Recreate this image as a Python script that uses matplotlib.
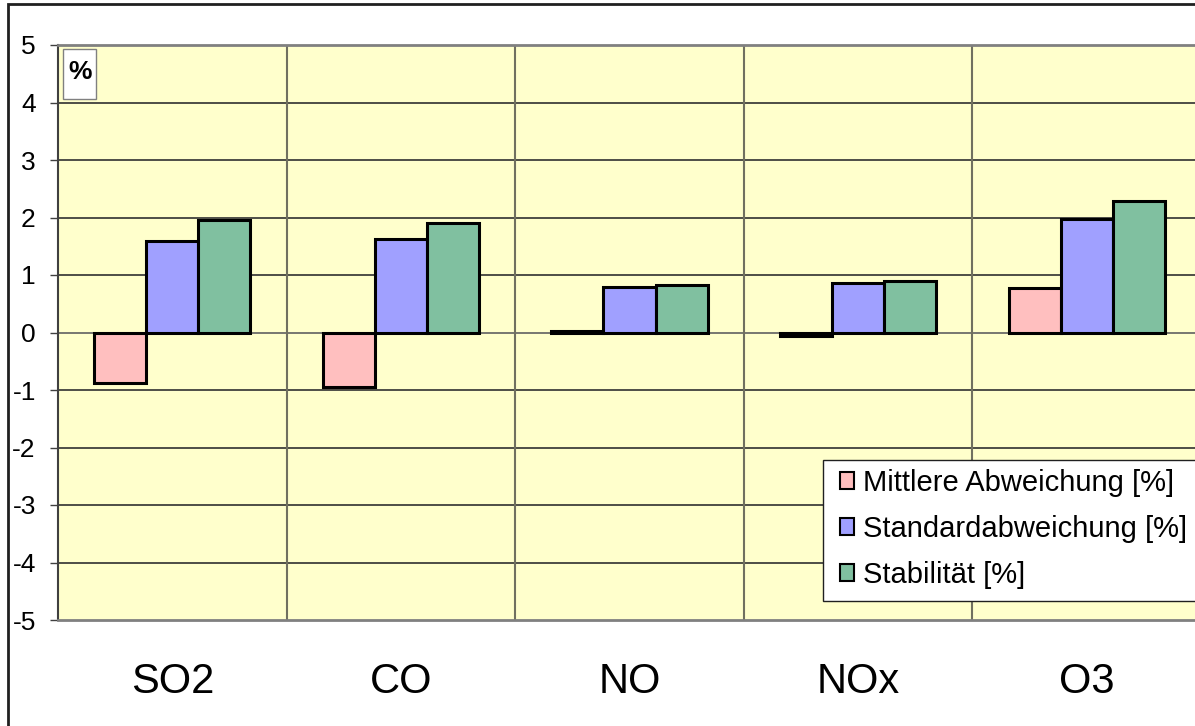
import numpy as np
import matplotlib
matplotlib.use('Agg')
import matplotlib.pyplot as plt
from matplotlib.patches import Rectangle

plt.rcParams['font.family'] = ['Liberation Sans', 'DejaVu Sans']

# Daten
categories = ['SO2', 'CO', 'NO', 'NOx', 'O3']
mittlere = [-0.87, -0.94, 0.03, -0.06, 0.77]
standard = [1.60, 1.63, 0.79, 0.86, 1.97]
stabil = [1.95, 1.91, 0.83, 0.89, 2.28]
series_labels = ['Mittlere Abweichung [%]', 'Standardabweichung [%]', 'Stabilität [%]']
colors = ['#FFBFBF', '#A0A0FF', '#80C0A0']

W, H = 1195, 726
fig = plt.figure(figsize=(W / 100, H / 100), dpi=100)
ax = fig.add_axes([58 / W, 1 - 620 / H, 1143 / W, 575 / H])
ax.set_facecolor('#FFFFCC')

def fig_rect(x0, y0, x1, y1, **kw):
    # Rechteck in Pixelkoordinaten (von oben links)
    r = Rectangle((x0 / W, 1 - y1 / H), (x1 - x0) / W, (y1 - y0) / H,
                  transform=fig.transFigure, **kw)
    fig.patches.append(r)
    return r

# aeusserer Rahmen
fig_rect(8, 4, 1300, 800, fill=False, edgecolor='#202020', linewidth=2)

x = np.arange(len(categories)) + 0.5
w = 0.228
for i, (vals, lab, c) in enumerate(zip([mittlere, standard, stabil], series_labels, colors)):
    ax.bar(x + (i - 1) * w, vals, w, color=c, edgecolor='black', linewidth=2.2,
           label=lab, zorder=3)

ax.set_xlim(0, 5)
ax.set_ylim(-5, 5)
ax.set_yticks(range(-5, 6))
ax.set_yticklabels([str(v) for v in range(-5, 6)])
ax.tick_params(axis='y', length=6, width=1, color='#404040', pad=10,
               direction='out', labelsize=19)
ax.set_xticks(x)
ax.set_xticklabels(categories)
ax.tick_params(axis='x', length=0, pad=30, labelsize=30)

# Gitter
for yv in range(-4, 5):
    ax.axhline(yv, color='#303030' if yv != 0 else '#606060', linewidth=1.2, zorder=1)
for xv in range(1, 5):
    ax.axvline(xv, color='#707060', linewidth=1.5, zorder=1)

for s in ['top', 'bottom', 'right']:
    ax.spines[s].set_color('#808080')
    ax.spines[s].set_linewidth(2)
ax.spines['left'].set_color('#404040')
ax.spines['left'].set_linewidth(1.5)

# Einheitenkasten
fig_rect(63, 49, 96, 99, facecolor='white', edgecolor='#808080', linewidth=1, zorder=5)
fig.text(80 / W, 1 - 72 / H, '%', fontsize=19, fontweight='bold',
         ha='center', va='center', zorder=6)

# Legende
fig_rect(823, 460, 1300, 601, facecolor='white', edgecolor='#202020', linewidth=1, zorder=4)
leg = fig.legend(loc='upper left', bbox_to_anchor=(834 / W, 1 - 463 / H),
                 fontsize=21, frameon=False, handlelength=0.5,
                 handleheight=0.5, handletextpad=0.3, labelspacing=0.62,
                 borderpad=0.2, borderaxespad=0)
leg.set_zorder(6)
for h in leg.legend_handles:
    h.set_linewidth(1.5)

fig.savefig('out.png', dpi=100)
